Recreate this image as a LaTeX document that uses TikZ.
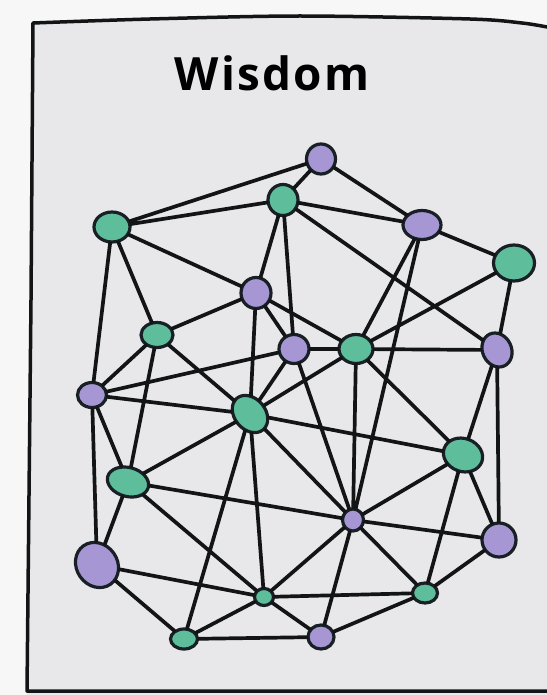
\documentclass[tikz,border=0pt]{standalone}
\usepackage{fontspec}
\newfontfamily\titlefont[LetterSpace=5]{Open Sans}
\usetikzlibrary{shapes.geometric}
\definecolor{gfill}{RGB}{94,190,156}
\definecolor{pfill}{RGB}{166,150,212}
\definecolor{nline}{RGB}{24,32,38}
\definecolor{paper}{RGB}{232,232,234}
\definecolor{outside}{RGB}{247,247,247}
\definecolor{ink}{RGB}{18,20,22}
\tikzset{
  gnode/.style={ellipse, draw=nline, line width=3.2bp, fill=gfill, inner sep=0pt, outer sep=0pt},
  pnode/.style={ellipse, draw=nline, line width=3.2bp, fill=pfill, inner sep=0pt, outer sep=0pt},
  sz/.style 2 args={minimum width=#1 bp, minimum height=#2 bp},
  link/.style={draw=ink, line width=3.7bp},
  frameline/.style={draw=ink, line width=3.5bp, line join=round, line cap=round}
}
\begin{document}
\begin{tikzpicture}[x=1bp,y=-1bp]
\useasboundingbox (0,0) rectangle (547,695);
\fill[outside] (0,0) rectangle (547,695);
% paper
\fill[paper] plot[smooth] coordinates {(33,23) (150,19) (300,16) (470,19) (522,23) (547,27)} -- (547,695) -- (27,695) -- cycle;
\draw[frameline] plot[smooth] coordinates {(547,27) (522,23) (470,19) (300,16) (150,19) (33,23)} -- (31,300) -- (27,691) -- (547,691);
% title
\node (title) at (272,73) {\titlefont\bfseries\fontsize{46}{46}\selectfont Wisdom};
% nodes
\node[pnode, sz={29}{30}] (P1) at (321,159) {};
\node[gnode, sz={36}{30}] (G1) at (112,227) {};
\node[gnode, sz={30}{31}] (G2) at (283,200) {};
\node[pnode, sz={38}{29}] (P2) at (422,225) {};
\node[gnode, sz={41}{36}] (G3) at (514,263) {};
\node[pnode, sz={30}{31}] (P3) at (256,293) {};
\node[gnode, sz={32}{25}] (G4) at (157,335) {};
\node[pnode, sz={30}{29}] (P4) at (294,349) {};
\node[gnode, sz={34}{29}] (G5) at (356,349) {};
\node[pnode, sz={35}{29}, rotate=-65] (P5) at (497,350) {};
\node[pnode, sz={29}{25}] (P6) at (92,395) {};
\node[gnode, sz={41}{31}, rotate=-50] (G6) at (250,414) {};
\node[gnode, sz={40}{33}, rotate=-20] (G7) at (463,455) {};
\node[gnode, sz={42}{29}, rotate=-15] (G8) at (128,482) {};
\node[pnode, sz={21}{22}] (P7) at (353,520) {};
\node[pnode, sz={47}{41}, rotate=-55] (P8) at (97,565) {};
\node[pnode, sz={34}{34}] (P9) at (499,540) {};
\node[gnode, sz={19}{17}] (G9) at (264,597) {};
\node[gnode, sz={25}{20}] (G10) at (425,593) {};
\node[gnode, sz={27}{20}] (G11) at (184,639) {};
\node[pnode, sz={26}{24}] (P10) at (321,637) {};
% connectors
\path[link]
 (P1) -- (G1) (P1) -- (G2) (P1) -- (P2)
 (G1) -- (G2) (G1) -- (P3) (G1) -- (G4) (G1) -- (P6)
 (G2) -- (P2) (G2) -- (P3) (G2) -- (P4) (G2) -- (P5)
 (P2) -- (G3) (P2) -- (G5) (P2) -- (P7)
 (G3) -- (P5) (G3) -- (G5)
 (P3) -- (G4) (P3) -- (G6) (P3) -- (P4) (P3) -- (G5)
 (P4) -- (G5) (P4) -- (G6) (P4) -- (P7) (P4) -- (P6)
 (G5) -- (P5) (G5) -- (G6) (G5) -- (G7) (G5) -- (P7)
 (P5) -- (G7) (P5) -- (P9)
 (G4) -- (G6) (G4) -- (P6) (G4) -- (G8)
 (P6) -- (G6) (P6) -- (G8) (P6) -- (P8)
 (G6) -- (G8) (G6) -- (G7) (G6) -- (P7) (G6) -- (G9) (G6) -- (G11)
 (G7) -- (P7) (G7) -- (G10) (G7) -- (P9)
 (G8) -- (P8) (G8) -- (P7) (G8) -- (G9)
 (P8) -- (G9) (P8) -- (G11)
 (P7) -- (P9) (P7) -- (G10) (P7) -- (P10) (P7) -- (G9)
 (P9) -- (G10)
 (G10) -- (G9) (G10) -- (P10)
 (G9) -- (G11) (G9) -- (P10)
 (G11) -- (P10);
\end{tikzpicture}
\end{document}
